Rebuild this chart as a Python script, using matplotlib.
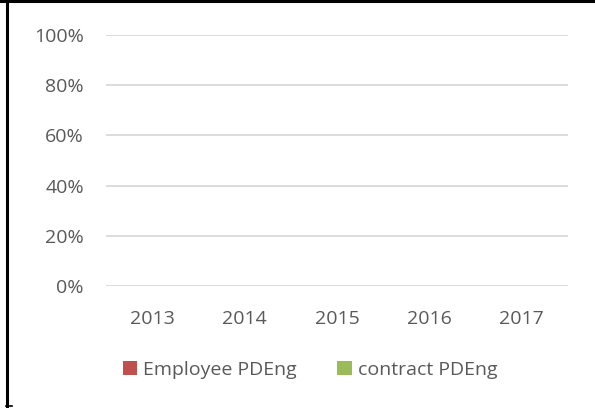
import matplotlib
matplotlib.use('Agg')
from matplotlib import pyplot as plt
from matplotlib.lines import Line2D
import numpy as np

years = ['2013', '2014', '2015', '2016', '2017']
employee_pdeng = [0, 0, 0, 0, 0]
contract_pdeng = [0, 0, 0, 0, 0]
y_ticks = [0, 0.2, 0.4, 0.6, 0.8, 1.0]
y_tick_labels = ['0%', '20%', '40%', '60%', '80%', '100%']

plt.rcParams['font.family'] = ['Open Sans', 'DejaVu Sans']
text_color = '#595959'

fig = plt.figure(figsize=(5.95, 4.08), dpi=100)
ax = fig.add_axes([106 / 595, 1 - 286 / 408, 462 / 595, 251 / 408])

x = np.arange(len(years))
ax.bar(x, employee_pdeng, width=0.55, color='#C0504D', label='Employee PDEng')
ax.bar(x, contract_pdeng, width=0.55, bottom=employee_pdeng, color='#9BBB59', label='contract PDEng')

ax.set_xlim(-0.5, len(years) - 0.5)
ax.set_ylim(0, 1.0)
ax.set_yticks(y_ticks, y_tick_labels)
ax.set_xticks(x, years)

# 罫線
ax.grid(axis='y', color='#d9d9d9', linewidth=1.3)
ax.set_axisbelow(True)
for s in ax.spines.values():
    s.set_visible(False)
ax.tick_params(length=0, labelsize=14, labelcolor=text_color)
ax.tick_params(axis='y', pad=16)
ax.tick_params(axis='x', pad=17)

fig.legend(loc='center', bbox_to_anchor=(310 / 595, 1 - 370 / 408), ncols=2, frameon=False,
           fontsize=14, labelcolor=text_color, handlelength=0.75, handleheight=0.75,
           handletextpad=0.3, columnspacing=2.1)

# 外枠 (partly cropped)
fig.add_artist(Line2D([0, 1], [1 - 1 / 408, 1 - 1 / 408], color='black', linewidth=2.2,
                      transform=fig.transFigure))
fig.add_artist(Line2D([7 / 595, 7 / 595], [0, 1], color='black', linewidth=2.2,
                      transform=fig.transFigure))
fig.add_artist(Line2D([6 / 595, 12 / 595], [2 / 408, 2 / 408], color='black', linewidth=1.2,
                      transform=fig.transFigure))

plt.savefig('out.png', dpi=100)
plt.close()
